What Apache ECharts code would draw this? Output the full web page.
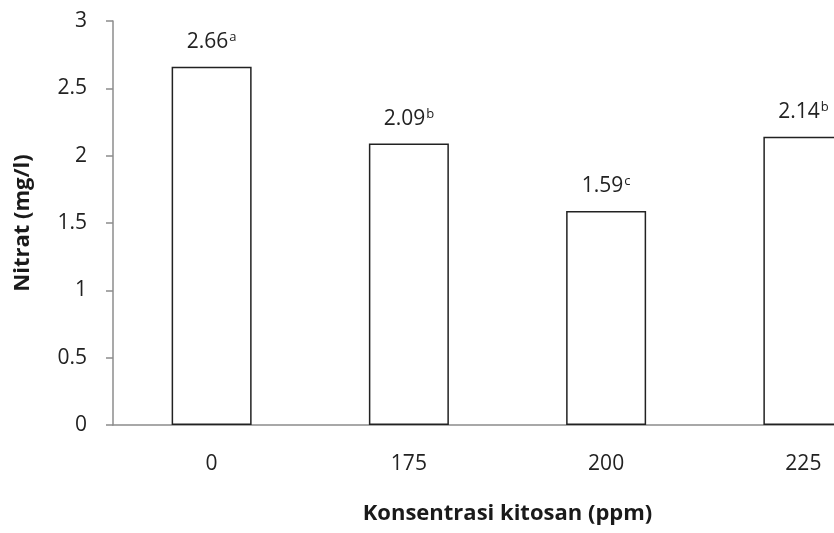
<!DOCTYPE html>
<html>
<head>
<meta charset="utf-8">
<script src="https://cdn.jsdelivr.net/npm/echarts@6/dist/echarts.min.js"></script>
<style>html,body{margin:0;padding:0;background:#fff;overflow:hidden;width:834px;height:533px}#c{width:902px;height:533px}</style>
</head>
<body>
<div id="c"></div>
<script>
const categories = ['0', '175', '200', '225'];
const values = [2.66, 2.09, 1.59, 2.14];
const letters = ['a', 'b', 'c', 'b'];
const yTicks = [0, 0.5, 1, 1.5, 2, 2.5, 3];
const xTitle = 'Konsentrasi kitosan (ppm)';
const yTitle = 'Nitrat (mg/l)';

const FONT = 'Open Sans';
const chart = echarts.init(document.getElementById('c'), null, {renderer: 'canvas'});
chart.setOption({
  animation: false,
  backgroundColor: '#fff',
  textStyle: {fontFamily: FONT},
  grid: {left: 113, top: 21, right: 0, bottom: 108, containLabel: false},
  xAxis: {
    type: 'category',
    data: categories,
    name: xTitle,
    nameLocation: 'middle',
    nameGap: 78,
    nameTextStyle: {fontFamily: FONT, fontSize: 22, fontWeight: 'bold', color: '#1a1a1a'},
    axisLine: {show: true, lineStyle: {color: '#8c8c8c', width: 1.5}},
    axisTick: {show: false},
    axisLabel: {fontFamily: FONT, fontSize: 21, color: '#222', margin: 29}
  },
  yAxis: {
    type: 'value',
    min: 0, max: 3, interval: 0.5,
    name: yTitle,
    nameLocation: 'middle',
    nameGap: 79,
    nameRotate: 90,
    nameTextStyle: {fontFamily: FONT, fontSize: 22, fontWeight: 'bold', color: '#1a1a1a'},
    axisLine: {show: true, lineStyle: {color: '#8c8c8c', width: 1.5}},
    axisTick: {show: true, inside: false, length: 7, lineStyle: {color: '#8c8c8c', width: 1.5}},
    splitLine: {show: false},
    axisLabel: {fontFamily: FONT, fontSize: 21, color: '#222', margin: 26,
      formatter: v => yTicks.includes(v) ? String(v) : ''}
  },
  series: [{
    type: 'bar',
    data: values,
    barWidth: 80,
    itemStyle: {color: '#fff', borderColor: '#222', borderWidth: 1.5},
    label: {
      show: true,
      position: 'top',
      distance: 14,
      formatter: p => '{v|' + p.value.toFixed(2) + '}{s|' + letters[p.dataIndex] + '}',
      rich: {
        v: {fontFamily: FONT, fontSize: 21, color: '#222'},
        s: {fontFamily: FONT, fontSize: 13, color: '#222', padding: [0, 0, 9, 1]}
      }
    }
  }]
});
</script>
</body>
</html>
